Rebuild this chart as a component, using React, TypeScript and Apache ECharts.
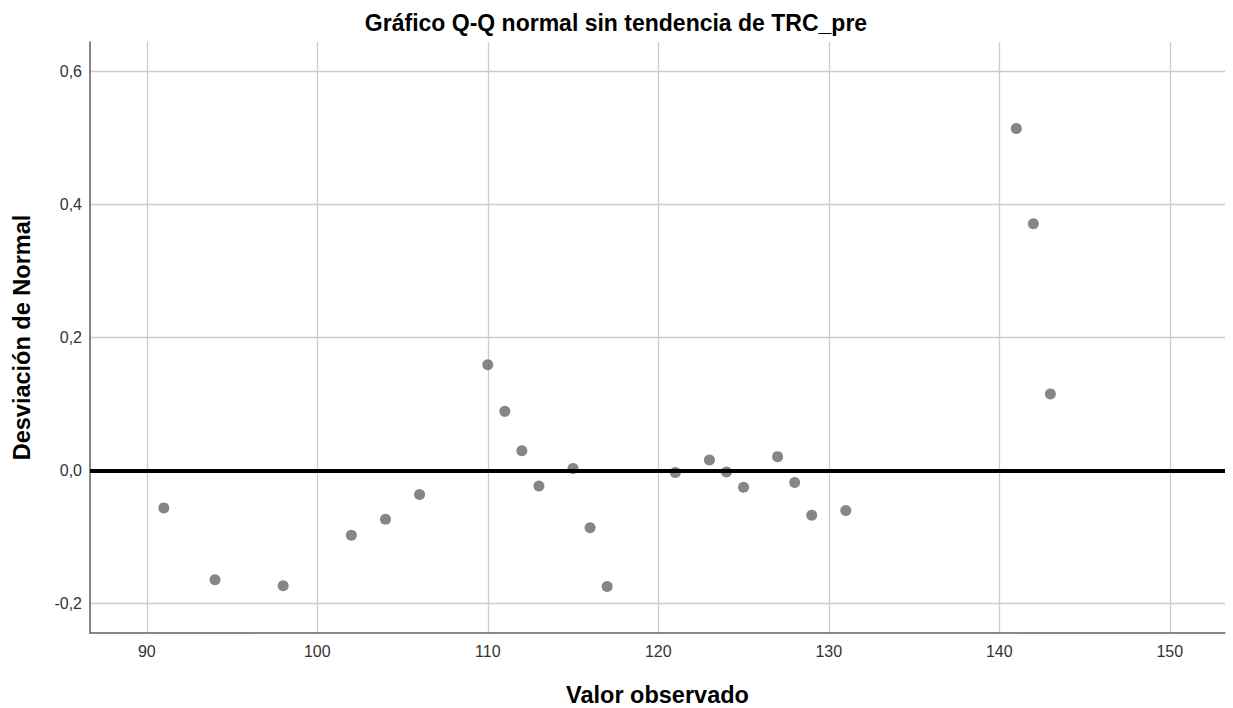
import React, { useEffect, useRef } from "react";
import * as echarts from "echarts";

const observedValues = [91, 94, 98, 102, 104, 106, 110, 111, 112, 113, 115, 116, 117, 121, 123, 124, 125, 127, 128, 129, 131, 141, 142, 143];
const deviations = [-0.056, -0.164, -0.173, -0.097, -0.073, -0.036, 0.159, 0.089, 0.030, -0.023, 0.003, -0.086, -0.174, -0.003, 0.016, -0.002, -0.025, 0.021, -0.018, -0.067, -0.060, 0.514, 0.371, 0.115];
const xTicks = [90, 100, 110, 120, 130, 140, 150];
const yTicks = [-0.2, 0, 0.2, 0.4, 0.6];
const xRange = [86.67, 153.24];
const yRange = [-0.244, 0.644];
const referenceValue = 0;

const FONT = "'Liberation Sans', Arial, sans-serif";

export default function App() {
  const ref = useRef<HTMLDivElement>(null);
  useEffect(() => {
    if (!ref.current) return;
    const chart = echarts.init(ref.current, null, { renderer: "svg" });
    const points = observedValues.map((v, i) => [v, deviations[i]]);
    chart.setOption({
      animation: false,
      backgroundColor: "#ffffff",
      title: {
        text: "Gráfico Q-Q normal sin tendencia de TRC_pre",
        left: 611,
        textAlign: "center",
        top: 6,
        textStyle: { fontFamily: FONT, fontSize: 23, fontWeight: "bold", color: "#000" },
      },
      grid: {
        left: 90,
        right: 8,
        top: 42,
        bottom: 75,
        containLabel: false,
        outerBoundsMode: "none",
      },
      xAxis: {
        type: "value",
        min: xRange[0],
        max: xRange[1],
        name: "Valor observado",
        nameLocation: "middle",
        nameGap: 50,
        nameTextStyle: { fontFamily: FONT, fontSize: 23.5, fontWeight: "bold", color: "#000" },
        axisLine: { show: true, onZero: false, lineStyle: { color: "#606060", width: 1.5 } },
        axisTick: { show: false, customValues: xTicks },
        axisLabel: {
          customValues: xTicks,
          fontFamily: FONT,
          fontSize: 16,
          color: "#333",
          margin: 10,
        },
        splitLine: { show: true, lineStyle: { color: "#cccccc", width: 1.3 } },
      },
      yAxis: {
        type: "value",
        min: yRange[0],
        max: yRange[1],
        name: "Desviación de Normal",
        nameLocation: "middle",
        nameGap: 56,
        nameTextStyle: { fontFamily: FONT, fontSize: 23.5, fontWeight: "bold", color: "#000" },
        axisLine: { show: true, onZero: false, lineStyle: { color: "#606060", width: 1.5 } },
        axisTick: { show: false, customValues: yTicks },
        axisLabel: {
          customValues: yTicks,
          fontFamily: FONT,
          fontSize: 16,
          color: "#333",
          margin: 8,
          formatter: (v: number) => v.toFixed(1).replace(".", ","),
        },
        splitLine: { show: true, lineStyle: { color: "#cccccc", width: 1.3 } },
      },
      series: [
        {
          type: "scatter",
          data: points,
          symbol: "circle",
          symbolSize: 11,
          itemStyle: { color: "#686868" },
          markLine: {
            silent: true,
            symbol: "none",
            label: { show: false },
            lineStyle: { color: "#000", width: 4, type: "solid" },
            data: [{ yAxis: referenceValue }],
          },
          z: 3,
        },
      ],
    });
    return () => chart.dispose();
  }, []);
  return (
    <div
      ref={ref}
      style={{ position: "fixed", left: 0, top: 0, width: 1233, height: 708 }}
    />
  );
}
